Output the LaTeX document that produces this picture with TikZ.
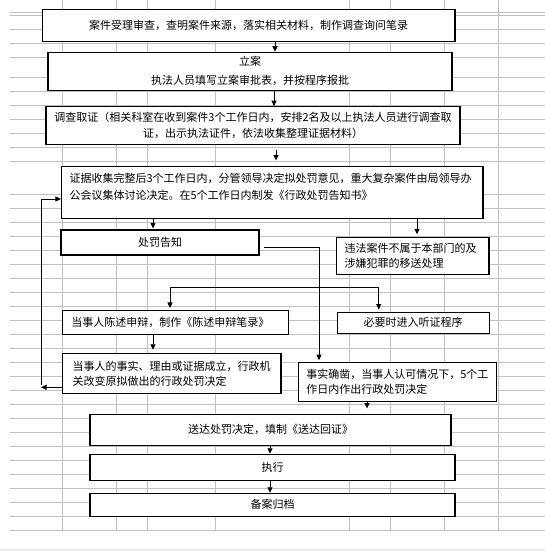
\documentclass[tikz,border=0pt]{standalone}
\usepackage{fontspec}
\setmainfont{Noto Sans CJK SC}
\usetikzlibrary{arrows.meta}
\definecolor{gridgray}{RGB}{192,192,192}
\definecolor{stripgray}{RGB}{236,236,236}
\newcommand\boxfont{\fontsize{11}{15}\selectfont}
\begin{document}
\begin{tikzpicture}[x=1pt,y=-1pt,
  box/.style={draw, line width=1.1pt, fill=white, inner ysep=0pt, font=\boxfont},
  cbox/.style={box, align=center},
  lbox/.style={box, align=left},
  arr/.style={line width=0.9pt, -{Triangle[length=5.5pt,width=5pt]}},
  ln/.style={line width=0.9pt},
  gridline/.style={draw=gridgray, line width=0.8pt}]
\useasboundingbox (0,0) rectangle (545,551);
\fill[stripgray] (0,549) rectangle (545,551);
\foreach \x in {62.5,116.5,147.7,215.5,349,390,444.3,498.7}
  \draw[gridline] (\x,0) -- (\x,530.3);
\foreach \y in {12.7,15.7,29.3,43.3,57.3,77.3,91,105,119.3,133.3,147.7,161,194,208,222.3,236,250,264.3,278.7,292.3,306.3,320,334,348.3,362.3,376.3,390,404.3,418.3,432.3,446,460.3,474,488,502,516.7,530.3}
  \draw[gridline] (10,\y) -- (545,\y);

% boxes
\node[cbox, minimum width=412.6pt, minimum height=32pt, text width=400.6pt, inner xsep=6pt] (b1) at (248.7,25.3)
  {案件受理审查，查明案件来源，落实相关材料，制作调查询问笔录};
\node[cbox, minimum width=404pt, minimum height=38pt, text width=392pt, inner xsep=6pt] (b2) at (250,71.3)
  {立案\\[4pt]执法人员填写立案审批表，并按程序报批};
\node[cbox, minimum width=414pt, minimum height=37.6pt, text width=402pt, inner xsep=6pt] (b3) at (253,125.5)
  {调查取证（相关科室在收到案件3个工作日内，安排2名及以上执法人员进行调查取\\[1pt]证，出示执法证件，依法收集整理证据材料）};
\node[box, inner xsep=8pt] (b4) at (272.25,192.2)
  {\parbox[c][52.3pt][t]{405.5pt}{\fontsize{11}{16.7}\selectfont\raggedright\rule{0pt}{16.5pt}证据收集完整后3个工作日内，分管领导决定拟处罚意见，重大复杂案件由局领导办\\公会议集体讨论决定。在5个工作日内制发《行政处罚告知书》}};
\node[cbox, minimum width=198pt, minimum height=25pt, text width=186pt, inner xsep=6pt] (b5) at (160,242.5)
  {处罚告知};
\node[lbox, minimum width=152.5pt, minimum height=37pt, text width=136.5pt, inner xsep=8pt] (b6) at (412.75,255.8)
  {违法案件不属于本部门的及\\涉嫌犯罪的移送处理};
\node[lbox, minimum width=226.2pt, minimum height=23.8pt, text width=208.2pt, inner xsep=9pt] (b7) at (175.4,322.4)
  {当事人陈述申辩，制作《陈述申辩笔录》};
\node[cbox, minimum width=151.7pt, minimum height=21.3pt, text width=139.7pt, inner xsep=6pt] (bh) at (413.2,322.7)
  {必要时进入听证程序};
\node[lbox, minimum width=218.5pt, minimum height=40pt, text width=198.5pt, inner xsep=10pt] (b9) at (171.75,373.3)
  {当事人的事实、理由或证据成立，行政机\\关改变原拟做出的行政处罚决定};
\node[lbox, minimum width=197.7pt, minimum height=39pt, text width=181.7pt, inner xsep=8pt] (b8) at (397.2,382.2)
  {事实确凿，当事人认可情况下，5个工\\作日内作出行政处罚决定};
\node[cbox, minimum width=361pt, minimum height=31.3pt, text width=349pt, inner xsep=6pt] (b10) at (270.5,429.7)
  {送达处罚决定，填制《送达回证》};
\node[cbox, minimum width=365pt, minimum height=26pt, text width=353pt, inner xsep=6pt] (b11) at (272.5,467.3)
  {执行};
\node[cbox, minimum width=365pt, minimum height=23pt, text width=353pt, inner xsep=6pt] (b12) at (272.5,504.8)
  {备案归档};

% connector coordinates
\coordinate (c1) at (275,0);
\coordinate (c2) at (274,0);
\coordinate (c3) at (276,0);
\coordinate (c4) at (153,0);
\coordinate (c5) at (417,0);
\coordinate (j1) at (319,247.3);
\coordinate (j2) at (319,287.7);
\coordinate (c7) at (170,0);
\coordinate (c8) at (378.7,0);
\coordinate (c9) at (153,0);
\coordinate (l1) at (41,387.3);
\coordinate (l2) at (41,385);
\coordinate (l3) at (41,199);
\coordinate (c10) at (367,0);
\coordinate (c11) at (270,0);

% connectors
\draw[arr] (b1.south -| c1) -- (b2.north -| c1);
\draw[arr] (b2.south -| c2) -- (b3.north -| c2);
\draw[arr, shorten <=5pt, shorten >=5pt] (b3.south -| c3) -- (b4.north -| c3);
\draw[arr, shorten >=1pt] (b4.south -| c4) -- (b5.north -| c4);
\draw[arr, shorten >=2.5pt] (b4.south -| c5) -- (b6.north -| c5);
\draw[arr, shorten <=4pt, shorten >=2pt] (b5.east |- j1) -- (j1) -- (b8.north -| j1);
\draw[arr, shorten >=2pt] (j2) -| (b7.north -| c7);
\draw[arr, shorten >=2pt] (j2) -| (bh.north -| c8);
\draw[arr, shorten >=3pt] (b7.south -| c9) -- (b9.north -| c9);
\draw[arr] (b9.west |- l1) -- (l1);
\draw[arr] (l2) -- (l3) -- (b4.west |- l3);
\draw[arr, shorten >=5pt] (b8.south -| c10) -- (b10.north -| c10);
\draw[arr] (b10.south -| c11) -- (b11.north -| c11);
\draw[arr] (b11.south -| c11) -- (b12.north -| c11);
\end{tikzpicture}
\end{document}
